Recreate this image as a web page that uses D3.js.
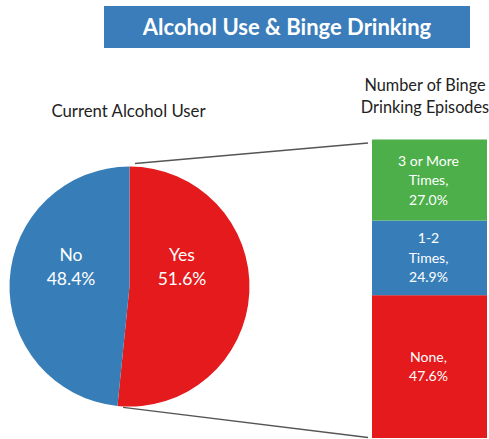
<!DOCTYPE html>
<html>
<head>
<meta charset="utf-8">
<script src="https://cdn.jsdelivr.net/npm/d3@7"></script>
<style>
html,body{margin:0;padding:0;background:#fff;}
svg{display:block;font-family:Lato, "Open Sans", sans-serif;}
</style>
</head>
<body>
<svg id="chart" width="489" height="439"></svg>
<script>
// ---- data ----
const chartTitle = "Alcohol Use & Binge Drinking";
const pieTitle = "Current Alcohol User";
const barTitle = ["Number of Binge", "Drinking Episodes"];
const pieCategories = ["Yes", "No"];
const pieValues = [51.6, 48.4];
const pieColors = ["#E41A1C", "#377EB8"];
const barCategories = [["None,"], ["1-2", "Times,"], ["3 or More", "Times,"]];
const barValues = [47.6, 24.9, 27.0];
const barColors = ["#E41A1C", "#377EB8", "#4DAF4A"];

const svg = d3.select("#chart");

// title box
svg.append("rect").attr("x", 104).attr("y", 6).attr("width", 366).attr("height", 42)
  .attr("fill", "#3A7DBA");
svg.append("text").attr("x", 287).attr("y", 35).attr("text-anchor", "middle")
  .attr("fill", "#fff").attr("font-size", 22).attr("font-weight", "bold")
  .text(chartTitle);

// pie
const cx = 129.5, cy = 286.5, r = 120;
const pie = d3.pie().sort(null).value(d => d)(pieValues);
const arc = d3.arc().innerRadius(0).outerRadius(r);
const pg = svg.append("g").attr("transform", `translate(${cx},${cy})`);
pg.selectAll("path").data(pie).join("path")
  .attr("d", arc).attr("fill", (d, i) => pieColors[i]);

const labelPos = [[52.5, -26], [-58.5, -26]];
pie.forEach((d, i) => {
  const t = pg.append("text").attr("text-anchor", "middle").attr("fill", "#fff")
    .attr("font-size", 17.5)
    .attr("transform", `translate(${labelPos[i][0]},${labelPos[i][1]})`);
  t.append("tspan").attr("x", 0).attr("y", 0).text(pieCategories[i]);
  t.append("tspan").attr("x", 0).attr("y", 24).text(pieValues[i].toFixed(1) + "%");
});

svg.append("text").attr("x", 128.5).attr("y", 117).attr("text-anchor", "middle")
  .attr("fill", "#222").attr("font-size", 16.8).text(pieTitle);

// stacked bar
const barX = 372, barW = 115;
const y = d3.scaleLinear().domain([0, d3.sum(barValues)]).range([438, 139.5]);
let cum = 0;
const stacks = barValues.map(v => { const s = {y0: cum, y1: cum + v}; cum += v; return s; });
svg.selectAll("rect.seg").data(stacks).join("rect").attr("class", "seg")
  .attr("x", barX).attr("width", barW)
  .attr("y", d => y(d.y1)).attr("height", d => y(d.y0) - y(d.y1))
  .attr("fill", (d, i) => barColors[i]);

stacks.forEach((s, i) => {
  const lines = barCategories[i].concat([barValues[i].toFixed(1) + "%"]);
  const mid = (y(s.y0) + y(s.y1)) / 2;
  const lh = 19.5;
  const start = mid - (lines.length - 1) * lh / 2 + 5;
  const t = svg.append("text").attr("text-anchor", "middle").attr("fill", "#fff")
    .attr("font-size", 14);
  lines.forEach((l, j) => t.append("tspan").attr("x", barX + barW / 2 - 1).attr("y", start + j * lh).text(l));
});

const bt = svg.append("text").attr("text-anchor", "middle").attr("fill", "#222").attr("font-size", 16.3);
barTitle.forEach((l, j) => bt.append("tspan").attr("x", 425).attr("y", 90.5 + j * 22.5).text(l));

// connector lines
const angEnd = pie[0].endAngle;
svg.append("line").attr("x1", 135).attr("y1", 163.5).attr("x2", 368).attr("y2", 143)
  .attr("stroke", "#555").attr("stroke-width", 1.3);
svg.append("line").attr("x1", cx + Math.sin(angEnd) * (r + 3) + 6).attr("y1", cy - Math.cos(angEnd) * (r + 3) - 1.5)
  .attr("x2", 368).attr("y2", 437.5)
  .attr("stroke", "#555").attr("stroke-width", 1.3);
</script>
</body>
</html>
